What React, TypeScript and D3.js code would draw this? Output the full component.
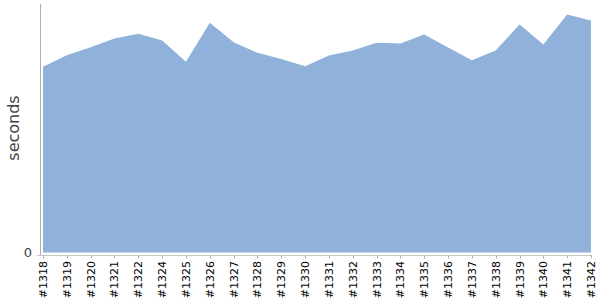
import React, { useEffect, useRef } from "react";
import * as d3 from "d3";

const builds = ["#1318","#1319","#1320","#1321","#1322","#1324","#1325","#1326","#1327","#1328","#1329","#1330","#1331","#1332","#1333","#1334","#1335","#1336","#1337","#1338","#1339","#1340","#1341","#1342"];
const seconds = [185.7,197.3,205.3,214,218.7,212,190.7,229.7,210.3,199.7,193.5,186.3,197,202,209.7,209,218,205,192.3,202,228,208,238,232];
const yTicks = [0];
const yLabel = "seconds";

export default function App() {
  const ref = useRef<SVGSVGElement>(null);
  useEffect(() => {
    const svg = d3.select(ref.current);
    svg.selectAll("*").remove();
    const x = d3.scalePoint<string>().domain(builds).range([43, 591]);
    const y = d3.scaleLinear().domain([0, 249]).range([252.5, 3.5]);
    const data = builds.map((b, i) => ({ b, v: seconds[i] }));
    const area = d3.area<{ b: string; v: number }>()
      .x(d => x(d.b)!)
      .y0(y(0))
      .y1(d => y(d.v));
    svg.append("path").datum(data).attr("d", area).attr("fill", "#8fb1da");

    svg.append("line").attr("x1", 40.5).attr("x2", 40.5).attr("y1", 4).attr("y2", 255)
      .attr("stroke", "#b0b0b0").attr("stroke-width", 1);
    svg.append("line").attr("x1", 37).attr("x2", 592).attr("y1", 255.5).attr("y2", 255.5)
      .attr("stroke", "#c8c8c8").attr("stroke-width", 1);

    yTicks.forEach(t => {
      svg.append("text").attr("x", 32).attr("y", y(t)).attr("dy", "0.35em")
        .attr("text-anchor", "end").attr("font-family", "DejaVu Sans").attr("font-size", 13)
        .attr("fill", "#444").text(String(t));
    });

    const g = svg.append("g");
    builds.forEach(b => {
      const px = Math.round(x(b)!) + 0.5;
      g.append("line").attr("x1", px).attr("x2", px).attr("y1", 255).attr("y2", 258.5)
        .attr("stroke", "#b0b0b0");
      g.append("text")
        .attr("transform", `translate(${x(b)! + 4},${261}) rotate(-90)`)
        .attr("text-anchor", "end")
        .attr("font-family", "DejaVu Sans").attr("font-size", 11).attr("fill", "#000")
        .text(b);
    });

    svg.append("text")
      .attr("transform", `translate(19,128) rotate(-90)`)
      .attr("text-anchor", "middle")
      .attr("font-family", "DejaVu Sans").attr("font-size", 16).attr("fill", "#444")
      .text(yLabel);
  }, []);
  return <svg ref={ref} width={600} height={300} style={{ position: "absolute", left: 0, top: 0, background: "#fff" }} />;
}
